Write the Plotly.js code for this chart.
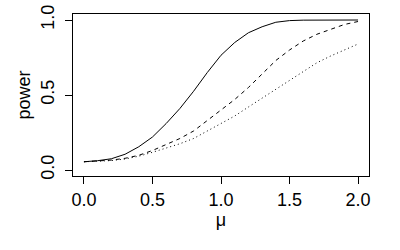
<!DOCTYPE html>
<html>
<head>
<meta charset="utf-8">
<script src="https://cdn.plot.ly/plotly-3.0.1.min.js"></script>
<style>html,body{margin:0;padding:0;background:#fff;}#chart{width:400px;height:250px;}</style>
</head>
<body>
<div id="chart"></div>
<script>
const mu = [0.0, 0.1, 0.2, 0.3, 0.4, 0.5, 0.6, 0.7, 0.8, 0.9, 1.0, 1.1, 1.2, 1.3, 1.4, 1.5, 1.6, 1.7, 1.8, 1.9, 2.0];
const powerSolid  = [0.055, 0.062, 0.075, 0.105, 0.155, 0.22, 0.31, 0.41, 0.525, 0.65, 0.765, 0.85, 0.915, 0.955, 0.985, 0.996, 0.999, 1.0, 1.0, 1.0, 1.0];
const powerDashed = [0.055, 0.058, 0.066, 0.078, 0.098, 0.13, 0.17, 0.21, 0.26, 0.33, 0.395, 0.47, 0.55, 0.64, 0.73, 0.80, 0.86, 0.905, 0.94, 0.97, 0.99];
const powerDotted = [0.055, 0.057, 0.063, 0.073, 0.092, 0.118, 0.145, 0.175, 0.21, 0.26, 0.31, 0.36, 0.42, 0.48, 0.54, 0.60, 0.66, 0.715, 0.76, 0.80, 0.84];
const xTicks = [0.0, 0.5, 1.0, 1.5, 2.0];
const xTickText = ["0.0", "0.5", "1.0", "1.5", "2.0"];
const yTicks = [0.0, 0.5, 1.0];
const yTickText = ["0.0", "0.5", "1.0"];

const mk = (y, dash) => ({x: mu, y: y, type: 'scatter', mode: 'lines',
  line: {color: '#000', width: 1, dash: dash}, hoverinfo: 'skip', showlegend: false});

const data = [mk(powerSolid, 'solid'), mk(powerDashed, '4px,4px'), mk(powerDotted, '1px,3px')];
const font = {family: 'Liberation Sans, Arial, sans-serif', size: 18, color: '#000'};
const layout = {
  width: 400, height: 250,
  margin: {l: 73, r: 31, t: 14, b: 74},
  paper_bgcolor: '#fff', plot_bgcolor: '#fff',
  font: font, showlegend: false,
  xaxis: {range: [-0.08, 2.08], tickvals: xTicks, ticktext: xTickText,
    ticks: 'outside', ticklen: 7, tickwidth: 1, tickcolor: '#000',
    showline: true, mirror: true, linecolor: '#000', linewidth: 1,
    showgrid: false, zeroline: false, tickfont: font,
    title: {text: 'μ', font: font, standoff: 4}, automargin: false},
  yaxis: {range: [-0.04, 1.04], tickvals: yTicks, ticktext: yTickText,
    ticks: 'outside', ticklen: 7, tickwidth: 1, tickcolor: '#000', tickangle: -90,
    ticklabelstandoff: 4,
    showline: true, mirror: true, linecolor: '#000', linewidth: 1,
    showgrid: false, zeroline: false, tickfont: font,
    title: {text: 'power', font: font, standoff: 2}, automargin: false}
};
Plotly.newPlot('chart', data, layout, {staticPlot: true, displayModeBar: false});
</script>
</body>
</html>
